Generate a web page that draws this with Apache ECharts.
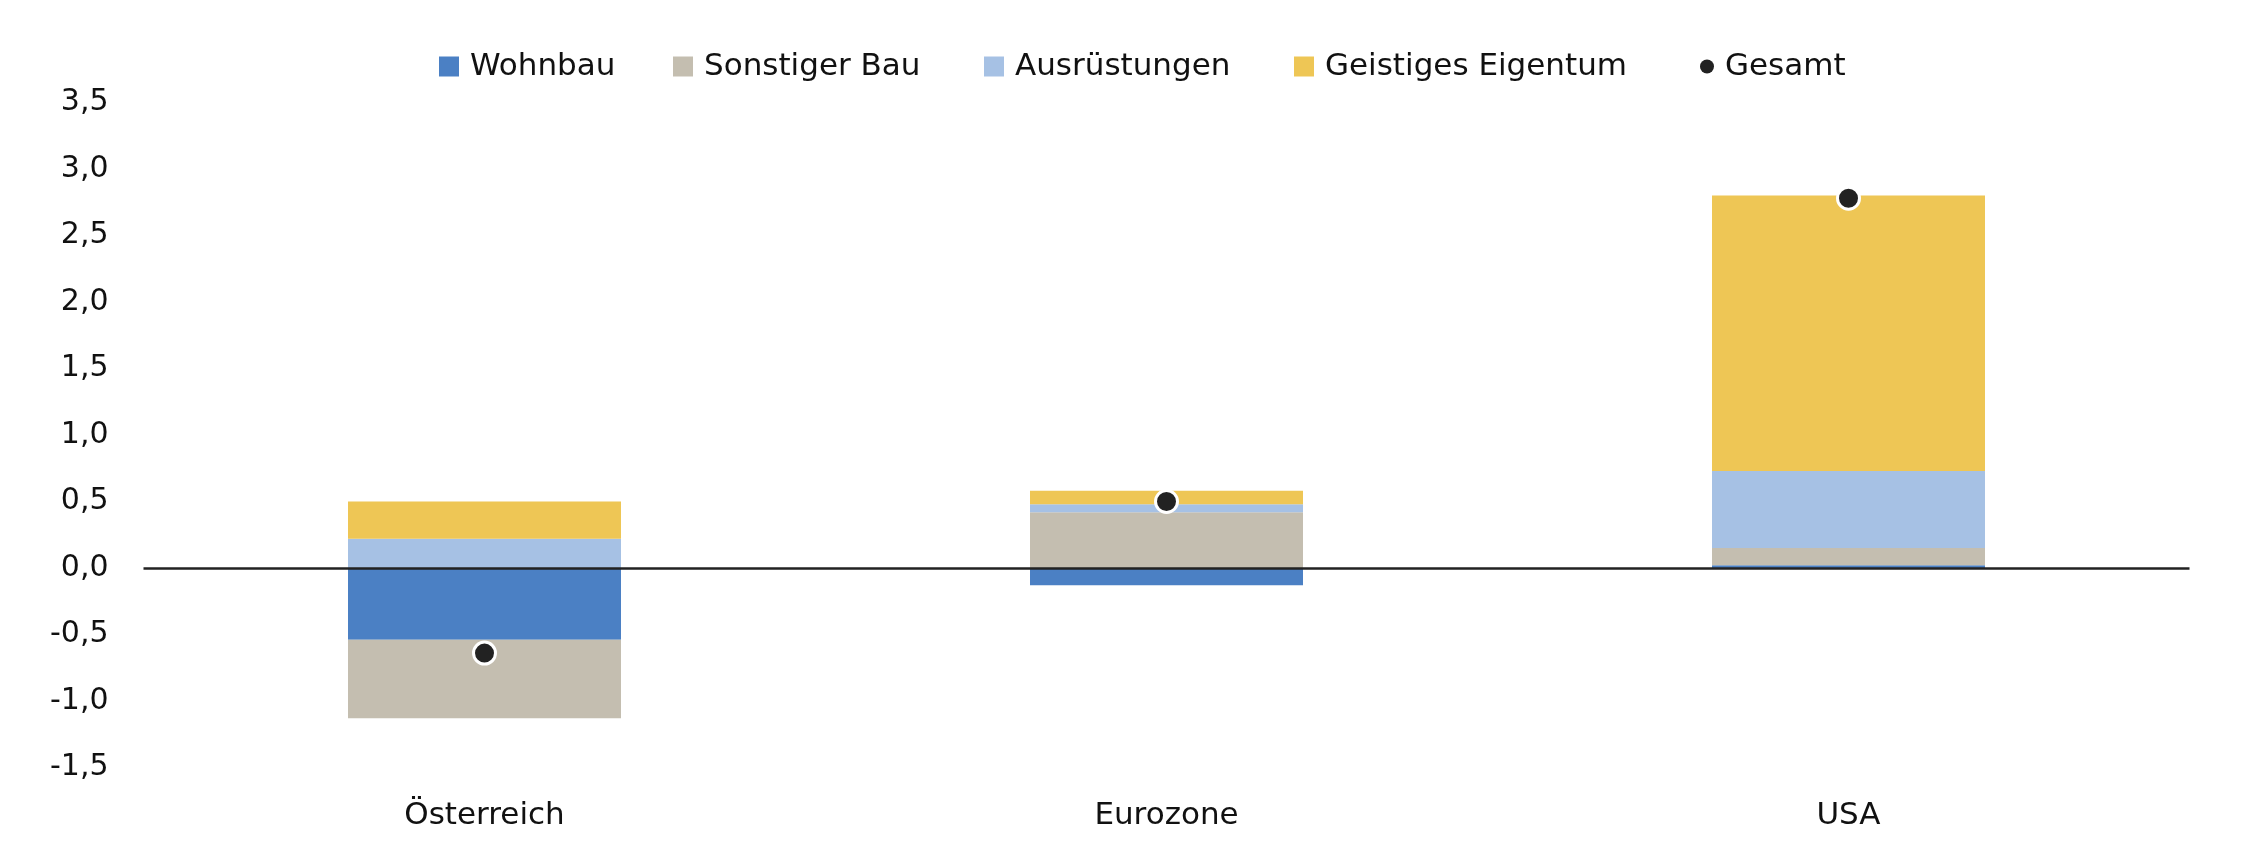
<!DOCTYPE html>
<html>
<head>
<meta charset="utf-8">
<script src="https://cdn.jsdelivr.net/npm/echarts@6/dist/echarts.min.js"></script>
<style>
html,body{margin:0;padding:0;background:#fff;}
#chart{width:2258px;height:859px;}
</style>
</head>
<body>
<div id="chart"></div>
<script>
const categories = ['Österreich', 'Eurozone', 'USA'];
const wohnbau = [-0.54, -0.13, 0.02];
const sonstigerBau = [-0.59, 0.42, 0.13];
const ausruestungen = [0.22, 0.06, 0.58];
const geistigesEigentum = [0.28, 0.10, 2.07];
const gesamt = [-0.64, 0.50, 2.78];
const seriesNames = ['Wohnbau', 'Sonstiger Bau', 'Ausrüstungen', 'Geistiges Eigentum', 'Gesamt'];

const colors = ['#4b80c4', '#c4beb0', '#a6c1e4', '#eec655', '#222222'];
const FONT = 'DejaVu Sans';
const legendLefts = [434, 668, 979, 1289, 1695];

const chart = echarts.init(document.getElementById('chart'));

const barData = [wohnbau, sonstigerBau, ausruestungen, geistigesEigentum];
const series = barData.map((d, i) => ({
  name: seriesNames[i],
  type: 'bar',
  stack: 'total',
  barWidth: 273,
  data: d,
  itemStyle: { color: colors[i], opacity: 1 },
  emphasis: { disabled: true }
}));
series.push({
  name: seriesNames[4],
  type: 'scatter',
  z: 5,
  data: gesamt,
  symbol: 'circle',
  symbolSize: 22,
  itemStyle: { color: colors[4], borderColor: '#ffffff', borderWidth: 3, opacity: 1 },
  emphasis: { disabled: true },
  markLine: {
    silent: true,
    symbol: 'none',
    label: { show: false },
    lineStyle: { color: '#222222', width: 2.5, type: 'solid', opacity: 1 },
    data: [{ yAxis: 0 }]
  }
});

const legends = seriesNames.map((n, i) => ({
  data: [{ name: n, icon: i === 4 ? 'circle' : 'rect', itemStyle: { opacity: 1, color: colors[i], borderWidth: 0 } }],
  left: legendLefts[i],
  top: 46,
  itemWidth: i === 4 ? 14 : 20,
  itemHeight: i === 4 ? 14 : 20,
  selectedMode: false,
  textStyle: { fontFamily: FONT, fontSize: 31, color: '#111', padding: [0, 0, 0, 6] }
}));

chart.setOption({
  animation: false,
  backgroundColor: '#ffffff',
  legend: legends,
  grid: { left: 143.5, right: 68.5, top: 102.5, bottom: 91.5, containLabel: false },
  xAxis: {
    type: 'category',
    data: categories,
    axisLine: { show: false, onZero: false },
    axisTick: { show: false },
    splitLine: { show: false },
    axisLabel: { fontFamily: FONT, fontSize: 31, color: '#111', margin: 33 }
  },
  yAxis: {
    type: 'value',
    min: -1.5,
    max: 3.5,
    interval: 0.5,
    axisLine: { show: false },
    axisTick: { show: false },
    splitLine: { show: false },
    axisLabel: {
      fontFamily: FONT, fontSize: 30, color: '#111', margin: 35,
      formatter: v => v.toFixed(1).replace('.', ',')
    }
  },
  series: series
});
</script>
</body>
</html>
